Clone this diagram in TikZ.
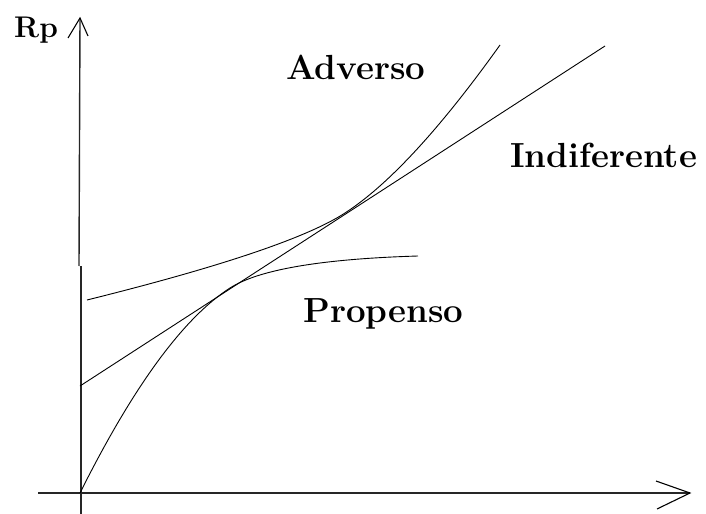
\documentclass[tikz,border=0pt]{standalone}
\usepackage{fontspec}
\setmainfont{Latin Modern Roman}
\begin{document}
\begin{tikzpicture}[x=1bp,y=-1bp,
  axis/.style={line width=1.4bp,black!85},
  curve/.style={line width=0.9bp,black},
  lbl/.style={anchor=base west,inner sep=0pt,font=\fontsize{35}{38}\selectfont\bfseries},
  rplbl/.style={anchor=base west,inner sep=0pt,font=\fontsize{30}{32}\selectfont\bfseries}]
\useasboundingbox (0,0) rectangle (706,514);
% axes
\coordinate (ytip) at (80,18);
\coordinate (ybrk) at (79,266);
\coordinate (ybrk2) at (81,266);
\coordinate (ybot) at (81,514);
\coordinate (yl) at (68,38);
\coordinate (yr) at (88,36);
\coordinate (xstart) at (38,493);
\coordinate (xtip) at (690,493);
\coordinate (xu) at (656,481);
\coordinate (xd) at (657,509);
\draw[axis] (ytip) -- (ybrk);
\draw[axis] (ybrk2) -- (ybot);
\draw[curve,line width=1.1bp] (yl) -- (ytip) -- (yr);
\draw[axis] (xstart) -- (xtip);
\draw[curve,line width=1.1bp] (xu) -- (xtip) -- (xd);
% points
\coordinate (O) at (80,493);
\coordinate (I0) at (80,386);
\coordinate (I1) at (605,46);
\coordinate (A0) at (87,300);
\coordinate (TA) at (345,213);
\coordinate (A1) at (500,45);
\coordinate (TP) at (230,288);
\coordinate (P1) at (418,256);
% indifferent line
\draw[curve] (I0) -- (I1);
% adverse (convex)
\draw[curve] (A0) .. controls (221,266.7) and (307,237.7) .. (TA)
  .. controls (388.3,185) and (440,129) .. (A1);
% propense (concave)
\draw[curve] (O) .. controls (133.3,386.3) and (183.3,318) .. (TP)
  .. controls (258.7,269.6) and (321.3,258.9) .. (P1);
% labels
\node[rplbl] (rp) at (14,38) {Rp};
\node[lbl] (adv) at (286,80) {Adverso};
\node[lbl] (ind) at (510,168) {Indiferente};
\node[lbl] (pro) at (303,322) {Propenso};
\end{tikzpicture}
\end{document}
